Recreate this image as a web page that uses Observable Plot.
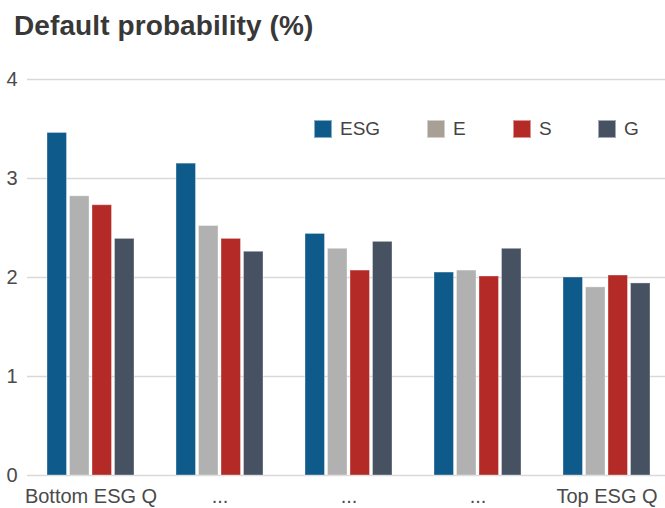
<!DOCTYPE html>
<html>
<head>
<meta charset="utf-8">
<script src="https://cdn.jsdelivr.net/npm/d3@7"></script>
<script src="https://cdn.jsdelivr.net/npm/@observablehq/plot@0.6"></script>
<style>
  body { margin: 0; background: #fff; }
  #wrap { position: relative; width: 665px; height: 508px; font-family: "Liberation Sans", Arial, sans-serif; }
  #title { position: absolute; left: 14px; top: 10px; font-size: 28px; font-weight: bold; color: #383838; letter-spacing: 0.1px; }
  #chart { position: absolute; left: 0; top: 50px; }
  #legend { position: absolute; left: 0; top: 0; }
  .lg { position: absolute; display: flex; align-items: center; font-size: 19px; color: #444; }
  .lg span.sw { display: inline-block; width: 18px; height: 18px; margin-right: 8px; box-sizing: border-box; border: 1px solid rgba(255,255,255,0.5); }
</style>
</head>
<body>
<div id="wrap">
  <div id="title">Default probability (%)</div>
  <div id="chart"></div>
  <div id="legend"></div>
</div>
<script>
// ---- data ----
const groupLabels = ["Bottom ESG Q", "...", "...", "...", "Top ESG Q"];
const seriesNames = ["ESG", "E", "S", "G"];
const esgValues = [3.46, 3.15, 2.44, 2.05, 2.00];
const eValues   = [2.82, 2.52, 2.29, 2.07, 1.90];
const sValues   = [2.73, 2.39, 2.07, 2.01, 2.02];
const gValues   = [2.39, 2.26, 2.36, 2.29, 1.94];
const yTicks = [0, 1, 2, 3, 4];
const barColors = ["#0e5a8a", "#b1b1b1", "#b42a26", "#465261"];
const legendColors = ["#0e5a8a", "#a89f96", "#b42a26", "#465261"];

const seriesValues = [esgValues, eValues, sValues, gValues];
const table = [];
seriesValues.forEach((vals, si) => vals.forEach((v, gi) => table.push({group: gi, series: seriesNames[si], value: v})));

const barStep = 22.5;
const barMarks = seriesNames.map((name, si) =>
  Plot.barY(table.filter(d => d.series === name), {
    x: "group", y: "value",
    fill: barColors[si],
    insetLeft: si * barStep,
    insetRight: (3 - si) * barStep,
    stroke: "white", strokeOpacity: 0.35, strokeWidth: 1
  })
);

const chart = Plot.plot({
  width: 665,
  height: 458,
  marginLeft: 27,
  marginRight: 0,
  marginTop: 29,
  marginBottom: 33,
  style: { fontFamily: "'Liberation Sans', Arial, sans-serif", fontSize: "20px", color: "#4a4a4a", background: "white" },
  x: {
    type: "band",
    domain: d3.range(groupLabels.length),
    range: [34, 664],
    paddingInner: 0.324,
    paddingOuter: 0.101,
    tickSize: 0,
    tickPadding: 13,
    tickFormat: i => groupLabels[i],
    label: null
  },
  y: {
    domain: [0, 4],
    ticks: yTicks,
    tickSize: 0,
    tickPadding: 10,
    tickFormat: d3.format("d"),
    label: null
  },
  marks: [
    Plot.ruleY(yTicks, { stroke: "#d9d9d9", strokeWidth: 1.5 }),
    ...barMarks
  ]
});
document.getElementById("chart").appendChild(chart);

// ---- legend (HTML, inside plot area) ----
const legendX = [314, 427, 513, 598];
const legend = document.getElementById("legend");
seriesNames.forEach((name, i) => {
  const item = document.createElement("div");
  item.className = "lg";
  item.style.left = legendX[i] + "px";
  item.style.top = "119px";
  item.style.height = "20px";
  const sw = document.createElement("span");
  sw.className = "sw";
  sw.style.background = legendColors[i];
  item.appendChild(sw);
  item.appendChild(document.createTextNode(name));
  legend.appendChild(item);
});
</script>
</body>
</html>
